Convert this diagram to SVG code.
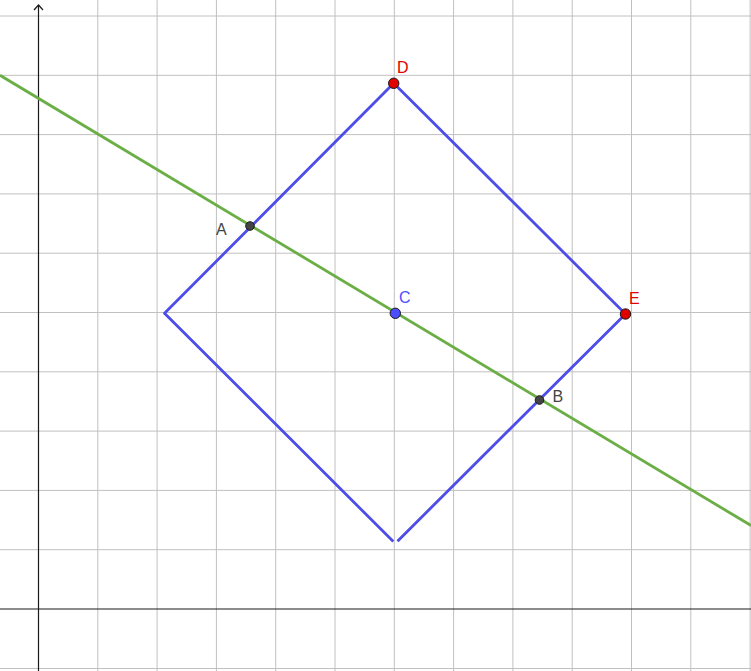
<svg xmlns="http://www.w3.org/2000/svg" width="751" height="671" viewBox="0 0 751 671">
<style>
.grid line{stroke:#c0c0c0;stroke-width:1}
.axis{stroke:#1a1a1a;stroke-width:1.2;fill:none}
.sq{stroke:#4d4de8;stroke-width:2.8;fill:none;stroke-linecap:butt;stroke-linejoin:round}
.ln{stroke:#6aae45;stroke-width:2.8}
.lbl{font-family:"Liberation Sans",Arial,sans-serif;font-size:16px}
.pt{stroke:#1a1a1a;stroke-width:1}
</style>
<rect width="751" height="671" fill="#ffffff"/>
<g id="grid" class="grid">
<line x1="97.8" y1="0" x2="97.8" y2="671"/>
<line x1="157.1" y1="0" x2="157.1" y2="671"/>
<line x1="216.4" y1="0" x2="216.4" y2="671"/>
<line x1="275.7" y1="0" x2="275.7" y2="671"/>
<line x1="335" y1="0" x2="335" y2="671"/>
<line x1="394.3" y1="0" x2="394.3" y2="671"/>
<line x1="453.6" y1="0" x2="453.6" y2="671"/>
<line x1="512.9" y1="0" x2="512.9" y2="671"/>
<line x1="572.2" y1="0" x2="572.2" y2="671"/>
<line x1="631.5" y1="0" x2="631.5" y2="671"/>
<line x1="690.8" y1="0" x2="690.8" y2="671"/>
<line x1="750.1" y1="0" x2="750.1" y2="671"/>
<line x1="0" y1="16" x2="751" y2="16"/>
<line x1="0" y1="75.3" x2="751" y2="75.3"/>
<line x1="0" y1="134.6" x2="751" y2="134.6"/>
<line x1="0" y1="193.9" x2="751" y2="193.9"/>
<line x1="0" y1="253.2" x2="751" y2="253.2"/>
<line x1="0" y1="312.5" x2="751" y2="312.5"/>
<line x1="0" y1="371.8" x2="751" y2="371.8"/>
<line x1="0" y1="431.1" x2="751" y2="431.1"/>
<line x1="0" y1="490.4" x2="751" y2="490.4"/>
<line x1="0" y1="549.7" x2="751" y2="549.7"/>
<line x1="0" y1="668.5" x2="751" y2="668.5"/>
</g>
<g id="axes">
<line class="axis" x1="0" y1="609" x2="751" y2="609"/>
<line class="axis" x1="38.5" y1="5" x2="38.5" y2="671"/>
<polyline class="axis" points="34,10 38.5,5 43,10"/>
</g>
<g id="connectors">
<line id="line-AB" class="ln" x1="0" y1="75.3" x2="751" y2="525.5"/>
<polyline id="square-left" class="sq" points="393.3,541.5 164.5,313.3 393.7,83.3"/>
<polyline id="square-right" class="sq" points="393.7,83.3 625.5,314 397.5,541.2"/>
</g>
<g id="node-D">
<circle class="pt" cx="393.7" cy="83.3" r="5.2" fill="#e00000"/>
<text class="lbl" x="397" y="73" fill="#e00000">D</text>
</g>
<g id="node-E">
<circle class="pt" cx="625.5" cy="314" r="5.2" fill="#e00000"/>
<text class="lbl" x="629" y="304" fill="#e00000">E</text>
</g>
<g id="node-C">
<circle class="pt" cx="395.3" cy="313.3" r="5.2" fill="#4d4dff"/>
<text class="lbl" x="399" y="302.5" fill="#4d4dff">C</text>
</g>
<g id="node-A">
<circle class="pt" cx="250" cy="226" r="4.3" fill="#444444"/>
<text class="lbl" x="216" y="235" fill="#444444">A</text>
</g>
<g id="node-B">
<circle class="pt" cx="539.5" cy="400" r="4.3" fill="#444444"/>
<text class="lbl" x="552.5" y="401.5" fill="#444444">B</text>
</g>
</svg>
